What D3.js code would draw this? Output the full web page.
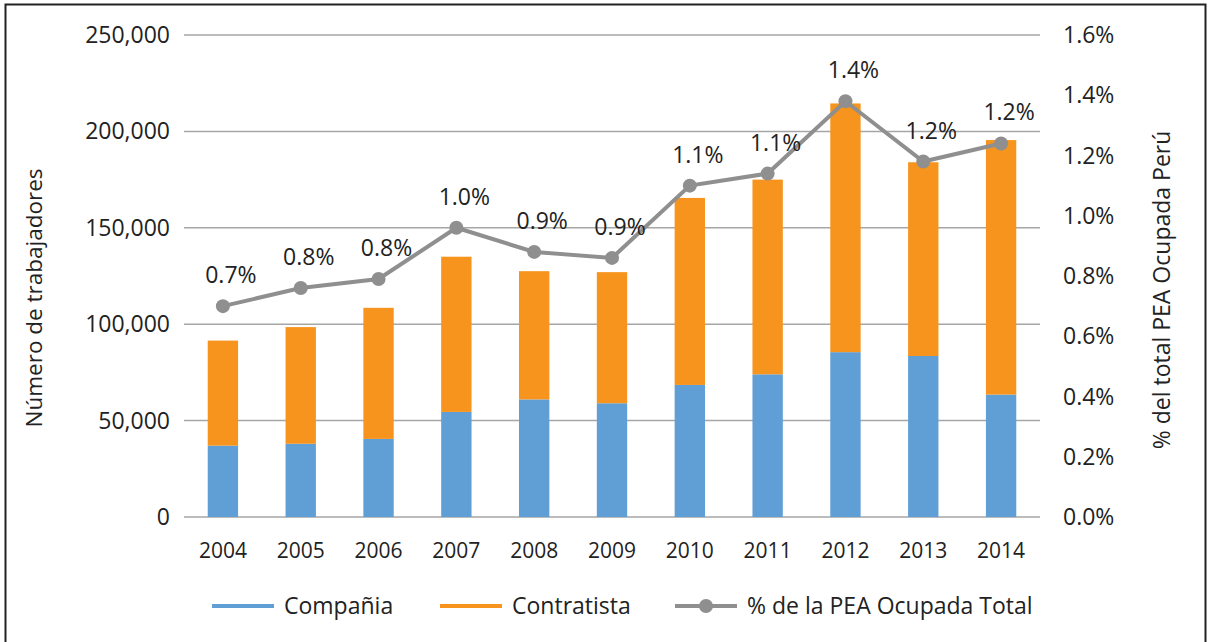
<body style="margin:0;background:#fff">
<div id="chart"></div>
<script src="https://cdn.jsdelivr.net/npm/d3@7"></script>
<script>
  // data
  const years = ["2004","2005","2006","2007","2008","2009","2010","2011","2012","2013","2014"];
  const compania = [37000, 38000, 40500, 54500, 61000, 59000, 68500, 74000, 85500, 83500, 63500];
  const contratista = [54500, 60500, 68000, 80500, 66500, 68000, 97000, 101000, 129000, 100500, 132000];
  const peaPct = [0.70, 0.76, 0.79, 0.96, 0.88, 0.86, 1.10, 1.14, 1.38, 1.18, 1.24];
  const leftTicks = [0, 50000, 100000, 150000, 200000, 250000];
  const rightTicks = [0, 0.2, 0.4, 0.6, 0.8, 1.0, 1.2, 1.4, 1.6];

  const W = 1211, H = 642;
  const font = "'Open Sans', sans-serif";
  const blue = "#5f9fd6", orange = "#f7941d", gray = "#8f8f8f";

  const svg = d3.select("#chart").append("svg")
    .attr("width", W).attr("height", H)
    .style("font-family", font);

  // outer frame
  svg.append("rect").attr("x", 5.5).attr("y", 4.5)
    .attr("width", 1200).attr("height", 640)
    .attr("fill", "none").attr("stroke", "#222").attr("stroke-width", 2);

  const x = d3.scaleBand().domain(years).range([184, 1040]).paddingInner(0.61).paddingOuter(0.305);
  const y = d3.scaleLinear().domain([0, 250000]).range([517, 35]);
  const y2 = d3.scaleLinear().domain([0, 1.6]).range([517, 35]);

  // gridlines
  svg.append("g").selectAll("line").data(leftTicks).enter().append("line")
    .attr("x1", 184).attr("x2", 1040)
    .attr("y1", d => y(d)).attr("y2", d => y(d))
    .attr("stroke", "#a6a6a6").attr("stroke-width", 1.5);

  // left axis labels
  svg.append("g").selectAll("text").data(leftTicks).enter().append("text")
    .attr("x", 170).attr("y", d => y(d)).attr("dy", "0.35em")
    .attr("text-anchor", "end").attr("font-size", 23).attr("fill", "#222")
    .text(d => d3.format(",")(d));

  // right axis labels
  svg.append("g").selectAll("text").data(rightTicks).enter().append("text")
    .attr("x", 1063).attr("y", d => y2(d)).attr("dy", "0.35em")
    .attr("font-size", 23).attr("fill", "#222")
    .text(d => d.toFixed(1) + "%");

  // x labels
  svg.append("g").selectAll("text").data(years).enter().append("text")
    .attr("x", d => x(d) + x.bandwidth() / 2).attr("y", 551).attr("dy", "0.35em")
    .attr("text-anchor", "middle").attr("font-size", 21).attr("fill", "#222")
    .text(d => d);

  // stacked bars
  const rows = years.map((yr, i) => ({ year: yr, compania: compania[i], contratista: contratista[i] }));
  const stack = d3.stack().keys(["compania", "contratista"])(rows);
  const colors = { compania: blue, contratista: orange };
  svg.append("g").selectAll("g").data(stack).enter().append("g")
    .attr("fill", s => colors[s.key])
    .selectAll("rect").data(s => s).enter().append("rect")
    .attr("x", d => x(d.data.year))
    .attr("width", x.bandwidth())
    .attr("y", d => y(d[1]))
    .attr("height", d => y(d[0]) - y(d[1]));

  // line series
  const line = d3.line().x((d, i) => x(years[i]) + x.bandwidth() / 2).y(d => y2(d));
  svg.append("path").datum(peaPct).attr("d", line)
    .attr("fill", "none").attr("stroke", gray).attr("stroke-width", 4);
  svg.append("g").selectAll("circle").data(peaPct).enter().append("circle")
    .attr("cx", (d, i) => x(years[i]) + x.bandwidth() / 2).attr("cy", d => y2(d))
    .attr("r", 7).attr("fill", gray);
  svg.append("g").selectAll("text").data(peaPct).enter().append("text")
    .attr("x", (d, i) => x(years[i]) + x.bandwidth() / 2 + 8).attr("y", d => y2(d) - 23)
    .attr("text-anchor", "middle").attr("font-size", 23).attr("fill", "#222")
    .text(d => d.toFixed(1) + "%");

  // axis titles
  svg.append("text").attr("transform", "translate(42,298) rotate(-90)")
    .attr("text-anchor", "middle").attr("font-size", 22.5).attr("fill", "#222")
    .text("Número de trabajadores");
  svg.append("text").attr("transform", "translate(1170,290) rotate(-90)")
    .attr("text-anchor", "middle").attr("font-size", 23).attr("fill", "#222")
    .text("% del total PEA Ocupada Perú");

  // legend
  const legend = [
    { label: "Compañia", color: blue, x: 212, dot: false },
    { label: "Contratista", color: orange, x: 440, dot: false },
    { label: "% de la PEA Ocupada Total", color: gray, x: 675, dot: true }
  ];
  const lg = svg.append("g").selectAll("g").data(legend).enter().append("g")
    .attr("transform", d => `translate(${d.x},606)`);
  lg.append("line").attr("x1", 0).attr("x2", 62)
    .attr("stroke", d => d.color).attr("stroke-width", 4);
  lg.filter(d => d.dot).append("circle").attr("cx", 31).attr("r", 7).attr("fill", gray);
  lg.append("text").attr("x", 72).attr("dy", "0.35em")
    .attr("font-size", 23).attr("fill", "#222")
    .text(d => d.label);
</script>
</body>
